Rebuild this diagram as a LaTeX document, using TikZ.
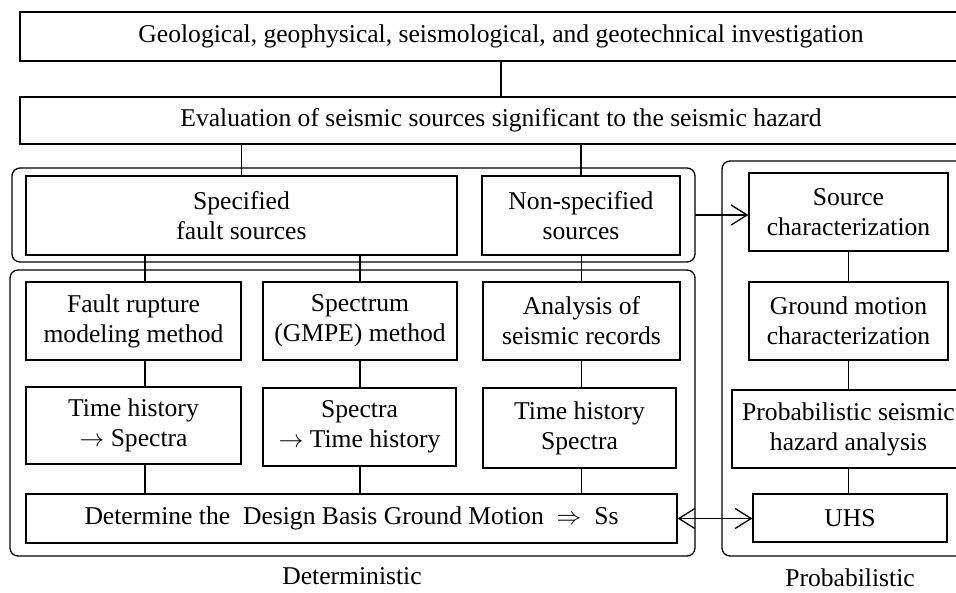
\documentclass[tikz,border=0pt]{standalone}
\usepackage{fontspec}
\setmainfont{Liberation Serif}
\usepackage{tikz}
\usetikzlibrary{arrows.meta, positioning, calc}

\tikzset{
  box/.style={draw, line width=1.3pt, align=center, inner sep=0pt, font=\fontsize{25.6}{30}\selectfont},
  group/.style={draw, line width=1.3pt, rounded corners=8pt},
  link/.style={line width=1.3pt},
  barb/.tip={Straight Barb[length=16pt,width=20pt,line width=1.3pt]},
  label/.style={font=\fontsize{25.6}{30}\selectfont}
}

\begin{document}
\begin{tikzpicture}[x=1pt, y=-1pt]
  \useasboundingbox (0,0) rectangle (956,592);
  \clip (0,0) rectangle (956,592);

  % Groups
  \draw[group] (12,168) rectangle (695,262);
  \draw[group] (10,270) rectangle (695,556);
  \draw[group] (722,161) rectangle (1000,556);
  \coordinate (upper) at (695,215);

  % Top boxes
  \node[box, minimum width=962pt, minimum height=49pt] (geo) at (501,36.5)
    {Geological, geophysical, seismological, and geotechnical investigation};
  \node[box, minimum width=962pt, minimum height=47pt] (eval) at (501,120.5)
    {Evaluation of seismic sources significant to the seismic hazard};

  % Deterministic
  \node[box, minimum width=431pt, minimum height=79pt] (spec) at (241.5,215.5) {Specified\\fault sources};
  \node[box, minimum width=198pt, minimum height=79pt] (nonspec) at (581,215.5) {Non-specified\\sources};
  \node[box, minimum width=215pt, minimum height=78pt] (fault) at (133.5,321) {Fault rupture\\modeling method};
  \node[box, minimum width=194pt, minimum height=78pt] (gmpe) at (360,321) {Spectrum\\(GMPE) method};
  \node[box, minimum width=197pt, minimum height=78pt] (records) at (581.5,321) {Analysis of\\seismic records};
  \node[box, minimum width=215pt, minimum height=77pt] (thspec) at (133.5,425.5) {Time history\\$\rightarrow$ Spectra};
  \node[box, minimum width=193pt, minimum height=78pt] (specth) at (359.5,427) {Spectra\\$\rightarrow$ Time history};
  \node[box, minimum width=193pt, minimum height=80pt] (thsp) at (579.5,428) {Time history\\Spectra};
  \node[box, minimum width=651pt, minimum height=49pt] (dbgm) at (351.5,518.5)
    {Determine the~ Design Basis Ground Motion ~$\Rightarrow$~ Ss};
  \node[label] (det) at (352,576) {Deterministic};

  % Probabilistic
  \node[box, minimum width=199pt, minimum height=78pt] (src) at (848.5,212) {Source\\characterization};
  \node[box, minimum width=199pt, minimum height=78pt] (gmc) at (848.5,321) {Ground motion\\characterization};
  \node[box, minimum width=233pt, minimum height=78pt] (psha) at (848.5,429) {Probabilistic seismic\\hazard analysis};
  \node[box, minimum width=194pt, minimum height=48pt] (uhs) at (850,518) {UHS};
  \node[label] (prob) at (850,578) {Probabilistic};

  % Connectors
  \coordinate (lcol) at (145,0);
  \draw[link] (geo) -- (eval);
  \draw[link] (eval.south -| spec.north) -- (spec.north);
  \draw[link] (eval.south -| nonspec.north) -- (nonspec.north);
  \draw[link] (lcol |- spec.south) -- (lcol |- fault.north);
  \draw[link] (spec.south -| gmpe.north) -- (gmpe.north);
  \draw[link] (nonspec.south -| records.north) -- (records.north);
  \draw[link] (lcol |- fault.south) -- (lcol |- thspec.north);
  \draw[link] (gmpe) -- (gmpe |- specth.north);
  \draw[link] (records) -- (records |- thsp.north);
  \draw[link] (lcol |- thspec.south) -- (lcol |- dbgm.north);
  \draw[link] (specth.south -| gmpe) -- (gmpe |- dbgm.north);
  \draw[link] (thsp.south -| records) -- (records |- dbgm.north);
  \draw[link] (src) -- (gmc);
  \draw[link] (gmc) -- (gmc |- psha.north);
  \draw[link] (psha.south -| gmc) -- (gmc |- uhs.north);

  % Arrows
  \draw[link, -barb] (upper) -- (upper -| src.west);
  \draw[link, barb-barb] (dbgm.east) -- (dbgm.east -| uhs.west);
\end{tikzpicture}
\end{document}
